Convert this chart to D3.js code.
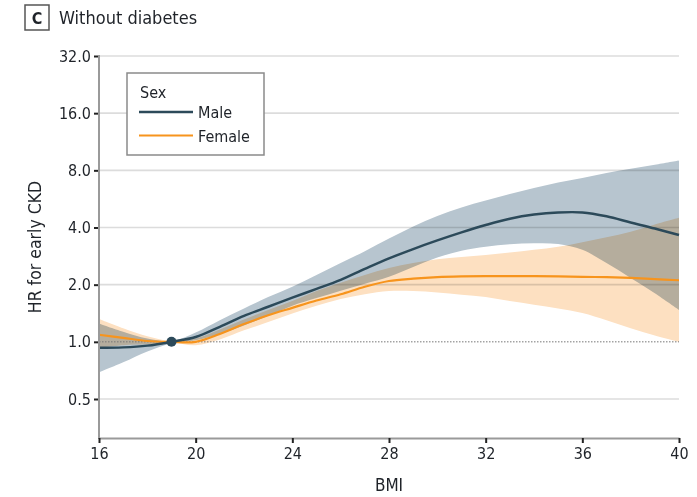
<!DOCTYPE html>
<html>
<head>
<meta charset="utf-8">
<script src="https://cdn.jsdelivr.net/npm/d3@7"></script>
<style>
  html, body { margin: 0; padding: 0; background: #fff; }
  svg { display: block; }
  text { font-family: "Liberation Sans Narrow", "DejaVu Sans Condensed", "Arial Narrow", sans-serif; fill: #1f2329; }
</style>
</head>
<body>
<svg id="chart" width="697" height="497"></svg>
<script>
// ---- data ----
const bmi = [16,17,18,19,20,21,22,23,24,25,26,27,28,29,30,31,32,33,34,35,36,37,38,39,40];
const maleHR    = [0.93,0.935,0.955,1.0,1.06,1.2,1.37,1.53,1.71,1.9,2.12,2.42,2.75,3.08,3.42,3.77,4.12,4.45,4.68,4.8,4.8,4.58,4.25,3.95,3.65];
const maleLow   = [0.69,0.78,0.89,0.98,1.02,1.1,1.22,1.37,1.55,1.7,1.86,2.02,2.2,2.48,2.78,3.02,3.17,3.26,3.3,3.27,3.05,2.6,2.17,1.8,1.47];
const maleHigh  = [1.25,1.13,1.04,1.01,1.12,1.3,1.5,1.72,1.95,2.25,2.6,3.0,3.5,4.05,4.6,5.1,5.55,6.0,6.45,6.9,7.3,7.75,8.15,8.55,9.0];
const femaleHR  = [1.09,1.05,1.01,1.0,1.0,1.1,1.24,1.38,1.51,1.65,1.78,1.95,2.09,2.15,2.19,2.21,2.22,2.22,2.22,2.21,2.2,2.19,2.17,2.14,2.11];
const femaleLow = [0.93,0.96,0.97,0.99,0.96,1.03,1.15,1.27,1.41,1.55,1.68,1.78,1.85,1.85,1.82,1.77,1.72,1.64,1.57,1.5,1.42,1.3,1.18,1.08,1.0];
const femaleHigh= [1.32,1.18,1.07,1.01,1.04,1.16,1.31,1.47,1.64,1.85,2.05,2.25,2.45,2.6,2.72,2.8,2.87,2.95,3.05,3.17,3.35,3.55,3.8,4.15,4.5];
const refBMI = 19, refHR = 1.0;
const xTicks = [16,20,24,28,32,36,40];
const yTicks = [0.5,1,2,4,8,16,32];
const yTickLabels = ["0.5","1.0","2.0","4.0","8.0","16.0","32.0"];
const seriesNames = ["Male","Female"];
const colors = {Male: "#2c4a5a", Female: "#f7941d"};
const bandColors = {Male: "#b7c5cf", Female: "#fde0c1"};

// ---- scales ----
const svg = d3.select("#chart");
const x = d3.scaleLinear().domain([16, 40]).range([99, 679]);
const y0 = d3.scaleLog().base(2).domain([0.5, 32]).range([399, 56]);
const yBottomVal = y0.invert(438);
const y = d3.scaleLog().base(2).domain([yBottomVal, 32]).range([438, 56]);

// gridlines
svg.append("g").selectAll("line").data(yTicks.filter(v => v !== 1)).join("line")
  .attr("x1", x(16)).attr("x2", x(40))
  .attr("y1", d => y(d)).attr("y2", d => y(d))
  .attr("stroke", "#dcdcdc").attr("stroke-width", 1.6);

const male = bmi.map((b,i) => ({b, hr: maleHR[i], lo: maleLow[i], hi: maleHigh[i]}));
const female = bmi.map((b,i) => ({b, hr: femaleHR[i], lo: femaleLow[i], hi: femaleHigh[i]}));

const area = d3.area().x(d => x(d.b)).y0(d => y(d.lo)).y1(d => y(d.hi)).curve(d3.curveCatmullRom);
const line = d3.line().x(d => x(d.b)).y(d => y(d.hr)).curve(d3.curveCatmullRom);

svg.append("path").datum(male).attr("d", area).attr("fill", bandColors.Male).style("mix-blend-mode", "multiply");
svg.append("path").datum(female).attr("d", area).attr("fill", bandColors.Female).style("mix-blend-mode", "multiply");

// reference dotted line at 1.0
svg.append("line").attr("x1", x(16)).attr("x2", x(40)).attr("y1", y(1)).attr("y2", y(1))
  .attr("stroke", "#777").attr("stroke-width", 1).attr("stroke-dasharray", "1.5,1.5");

svg.append("path").datum(female).attr("d", line).attr("fill", "none").attr("stroke", colors.Female).attr("stroke-width", 2.2);
svg.append("path").datum(male).attr("d", line).attr("fill", "none").attr("stroke", colors.Male).attr("stroke-width", 2.5);
svg.append("circle").attr("cx", x(refBMI)).attr("cy", y(refHR)).attr("r", 5).attr("fill", colors.Male);

// y axis
const yAxis = d3.axisLeft(y).tickValues(yTicks).tickFormat((d,i) => yTickLabels[i]).tickSize(5).tickSizeOuter(0);
const gy = svg.append("g").attr("transform", `translate(${x(16)},0)`).call(yAxis);
gy.select(".domain").remove();
gy.selectAll(".tick line").attr("stroke", "#222").attr("stroke-width", 2);
gy.selectAll(".tick text").attr("x", -8).style("font-size", "16px").style("font-family", null);
svg.append("line").attr("x1", x(16)).attr("x2", x(16)).attr("y1", y(32) - 1).attr("y2", 439)
  .attr("stroke", "#9a9a9a").attr("stroke-width", 2);

// x axis
const xAxis = d3.axisBottom(x).tickValues(xTicks).tickFormat(d3.format("d")).tickSize(5).tickSizeOuter(0);
const gx = svg.append("g").attr("transform", `translate(0,438)`).call(xAxis);
gx.select(".domain").attr("stroke", "#9a9a9a").attr("stroke-width", 2);
gx.selectAll(".tick line").attr("stroke", "#222").attr("stroke-width", 2);
gx.selectAll(".tick text").attr("y", 10).style("font-size", "16px").style("font-family", null);
gx.selectAll("text").attr("fill", "#1f2329");
gy.selectAll("text").attr("fill", "#1f2329");

// axis titles
svg.append("text").attr("x", x(28)).attr("y", 491).attr("text-anchor", "middle").style("font-size", "17px").text("BMI");
svg.append("text").attr("transform", `translate(41,${(y(32)+438)/2}) rotate(-90)`).attr("text-anchor", "middle")
  .style("font-size", "17.5px").text("HR for early CKD");

// panel title
svg.append("rect").attr("x", 25).attr("y", 5).attr("width", 24).attr("height", 25).attr("fill", "#fff")
  .attr("stroke", "#555").attr("stroke-width", 1.5);
svg.append("text").attr("x", 37).attr("y", 24).attr("text-anchor", "middle").style("font-size", "16px").style("font-weight", "bold").text("C");
svg.append("text").attr("x", 59).attr("y", 24).style("font-size", "18px").text("Without diabetes");

// legend
const lg = svg.append("g");
lg.append("rect").attr("x", 127).attr("y", 73).attr("width", 137).attr("height", 82)
  .attr("fill", "#fff").attr("stroke", "#8a8a8a").attr("stroke-width", 1.5);
lg.append("text").attr("x", 140).attr("y", 98).style("font-size", "16px").text("Sex");
seriesNames.forEach((name, i) => {
  const yy = 112 + i * 23.5;
  lg.append("line").attr("x1", 139).attr("x2", 193).attr("y1", yy).attr("y2", yy)
    .attr("stroke", colors[name]).attr("stroke-width", name === "Male" ? 2.5 : 2.2);
  lg.append("text").attr("x", 198).attr("y", yy + 6).style("font-size", "16px").text(name);
});
</script>
</body>
</html>
